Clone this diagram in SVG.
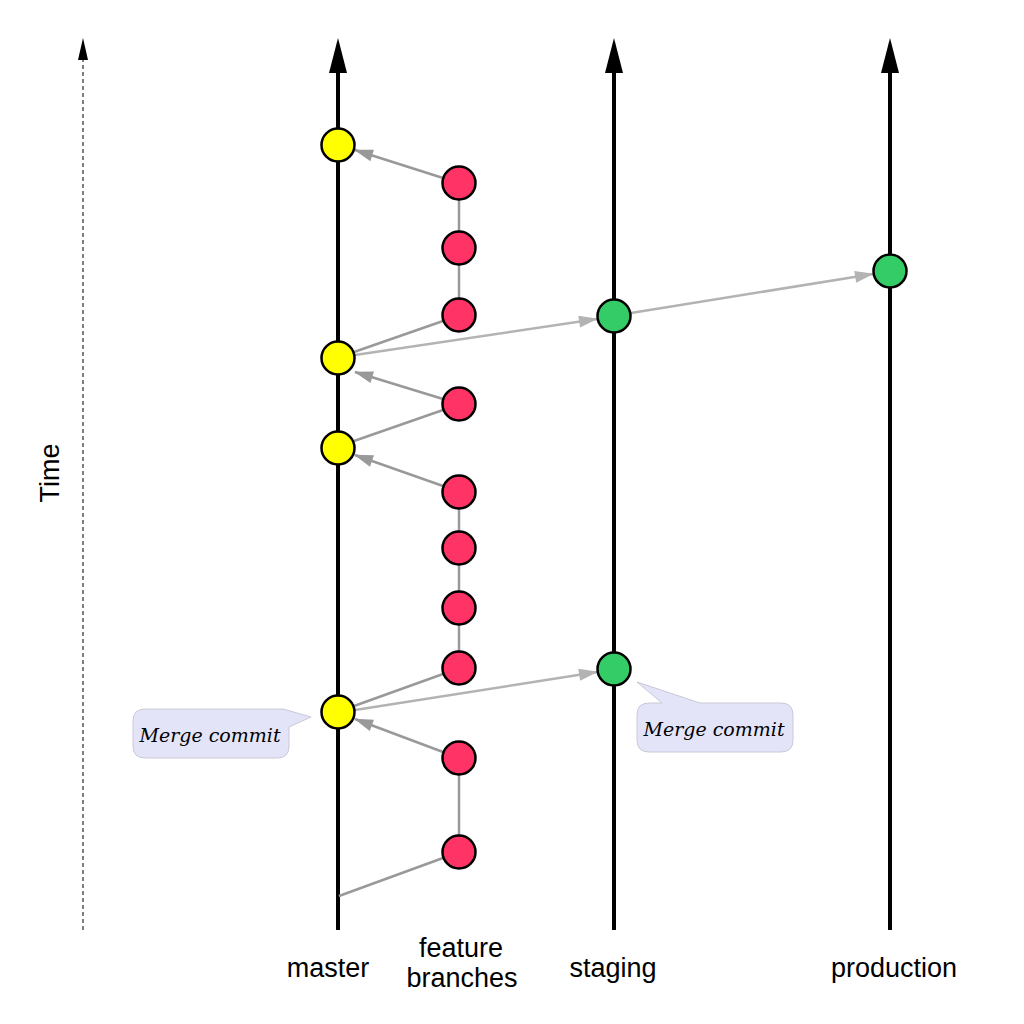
<svg xmlns="http://www.w3.org/2000/svg" width="1024" height="1024" viewBox="0 0 1024 1024">
<style>
.axis{stroke:#000;stroke-width:4;fill:none}
.c{stroke:#000;stroke-width:2.5}
.y{fill:#ffff00}
.r{fill:#ff3366}
.g{fill:#33cc66}
.fb{stroke:#999;stroke-width:2.5;fill:none}
.pr{stroke:#b3b3b3;stroke-width:2.5;fill:none}
.lbl{font-family:"Liberation Sans",Arial,sans-serif;font-size:27px;fill:#000;text-anchor:middle}
.note{fill:#e4e4f9;stroke:#c9c9d6;stroke-width:1}
.nt{font-family:"DejaVu Serif","Liberation Serif",serif;font-style:italic;font-size:19px;fill:#000;text-anchor:middle}
</style>
<defs>
<marker id="big" markerUnits="userSpaceOnUse" markerWidth="36" markerHeight="20" refX="0" refY="9" orient="auto" overflow="visible">
<path d="M0,0 L35,9 L0,18 z" fill="#000"/>
</marker>
<marker id="small" markerUnits="userSpaceOnUse" markerWidth="24" markerHeight="12" refX="0" refY="5" orient="auto" overflow="visible">
<path d="M0,0 L22,5 L0,10 z" fill="#000"/>
</marker>
<marker id="ag" markerUnits="userSpaceOnUse" markerWidth="20" markerHeight="14" refX="18" refY="6" orient="auto" overflow="visible">
<path d="M0,0 L19,6 L0,12 z" fill="#999"/>
</marker>
<marker id="al" markerUnits="userSpaceOnUse" markerWidth="20" markerHeight="14" refX="18" refY="6" orient="auto" overflow="visible">
<path d="M0,0 L19,6 L0,12 z" fill="#b3b3b3"/>
</marker>
</defs>
<rect width="1024" height="1024" fill="#fff"/>

<g id="time-axis">
<line x1="83" y1="930" x2="83" y2="60" stroke="#000" stroke-width="1" stroke-dasharray="4,3" marker-end="url(#small)"/>
<text class="lbl" transform="translate(59,473) rotate(-90)">Time</text>
</g>

<g id="branch-lines">
<line class="axis" x1="338" y1="930" x2="338" y2="73" marker-end="url(#big)"/>
<line class="axis" x1="614" y1="930" x2="614" y2="73" marker-end="url(#big)"/>
<line class="axis" x1="890" y1="930" x2="890" y2="73" marker-end="url(#big)"/>
</g>

<g id="connectors">
<line class="fb" x1="459" y1="183" x2="459" y2="315"/>
<line class="fb" x1="459" y1="492" x2="459" y2="668"/>
<line class="fb" x1="459" y1="758" x2="459" y2="852"/>
<line class="fb" x1="443" y1="178" x2="355" y2="150" marker-end="url(#ag)"/>
<line class="fb" x1="443" y1="321" x2="354" y2="352"/>
<line class="fb" x1="443" y1="399" x2="355" y2="372" marker-end="url(#ag)"/>
<line class="fb" x1="354" y1="441" x2="443" y2="410"/>
<line class="fb" x1="443" y1="486" x2="355" y2="455" marker-end="url(#ag)"/>
<line class="fb" x1="443" y1="674" x2="354" y2="706"/>
<line class="fb" x1="443" y1="752" x2="355" y2="719" marker-end="url(#ag)"/>
<line class="fb" x1="339" y1="896" x2="443" y2="858"/>
<line class="pr" x1="355" y1="355" x2="597" y2="319" marker-end="url(#al)"/>
<line class="pr" x1="631" y1="313" x2="873" y2="274" marker-end="url(#al)"/>
<line class="pr" x1="355" y1="710" x2="597" y2="672" marker-end="url(#al)"/>
</g>

<g id="master-commits">
<circle class="c y" cx="338" cy="145" r="16.5"/>
<circle class="c y" cx="338" cy="358" r="16.5"/>
<circle class="c y" cx="338" cy="448" r="16.5"/>
<circle class="c y" cx="338" cy="712" r="16.5"/>
</g>

<g id="feature-commits">
<circle class="c r" cx="459" cy="183" r="16.5"/>
<circle class="c r" cx="459" cy="248" r="16.5"/>
<circle class="c r" cx="459" cy="315" r="16.5"/>
<circle class="c r" cx="459" cy="404" r="16.5"/>
<circle class="c r" cx="459" cy="492" r="16.5"/>
<circle class="c r" cx="459" cy="548" r="16.5"/>
<circle class="c r" cx="459" cy="608" r="16.5"/>
<circle class="c r" cx="459" cy="668" r="16.5"/>
<circle class="c r" cx="459" cy="758" r="16.5"/>
<circle class="c r" cx="459" cy="852" r="16.5"/>
</g>

<g id="staging-commits">
<circle class="c g" cx="614" cy="316" r="16.5"/>
<circle class="c g" cx="614" cy="669" r="16.5"/>
</g>

<g id="production-commits">
<circle class="c g" cx="890" cy="271" r="16.5"/>
</g>

<g id="note-left">
<path class="note" d="M145,709 H283 L311,717 L289,727 V746 Q289,758 277,758 H145 Q133,758 133,746 V721 Q133,709 145,709 Z"/>
<text class="nt" x="210" y="742">Merge commit</text>
</g>

<g id="note-right">
<path class="note" d="M649,703 H662 L637,682 L700,703 H781 Q793,703 793,715 V740 Q793,752 781,752 H649 Q637,752 637,740 V715 Q637,703 649,703 Z"/>
<text class="nt" x="714" y="736">Merge commit</text>
</g>

<g id="labels">
<text class="lbl" x="328" y="977">master</text>
<text class="lbl" x="461" y="957">feature</text>
<text class="lbl" x="462" y="987">branches</text>
<text class="lbl" x="613" y="977">staging</text>
<text class="lbl" x="894" y="977">production</text>
</g>
</svg>
